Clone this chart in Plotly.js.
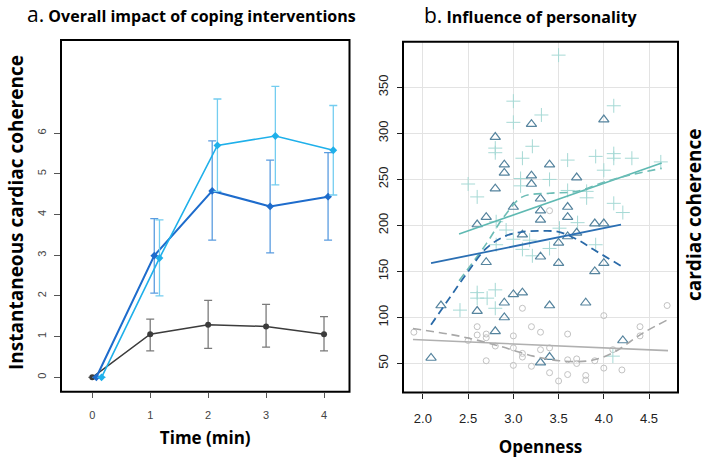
<!DOCTYPE html>
<html>
<head>
<meta charset="utf-8">
<script src="https://cdn.plot.ly/plotly-3.0.1.min.js"></script>
<style>html,body{margin:0;padding:0;background:#fff;}#chart{width:708px;height:461px;}</style>
</head>
<body>
<div id="chart"></div>
<script>
// ---------- Panel a data ----------
var timeMin = [0, 1, 2, 3, 4];
var timeTicks = [0, 1, 2, 3, 4];
var cohTicks = [0, 1, 2, 3, 4, 5, 6];

var greyMean  = [0, 1.06, 1.29, 1.25, 1.06];
var greyUpper = [null, 1.43, 1.89, 1.79, 1.49];
var greyLower = [null, 0.65, 0.71, 0.74, 0.65];

var darkMean  = [0, 2.99, 4.58, 4.20, 4.44];
var darkUpper = [null, 3.90, 5.81, 5.34, 5.52];
var darkLower = [null, 2.07, 3.37, 3.06, 3.37];

var lightMean  = [0, 2.93, 5.70, 5.93, 5.58];
var lightUpper = [null, 3.87, 6.84, 7.15, 6.68];
var lightLower = [null, 2.00, 4.57, 4.73, 4.48];

// ---------- Panel b data ----------
var opennessTicks = [2.0, 2.5, 3.0, 3.5, 4.0, 4.5];
var opennessTickText = ["2.0", "2.5", "3.0", "3.5", "4.0", "4.5"];
var cohTicksB = [50, 100, 150, 200, 250, 300, 350];

var crossX = [3.50,3.00,3.00,3.31,4.11,2.80,2.80,3.21,3.10,3.60,3.91,4.11,4.11,4.31,4.63,2.50,2.60,3.08,3.08,3.40,3.60,3.81,3.81,4.00,4.11,4.21,3.71,2.81,2.92,3.00,2.81,3.10,3.21,3.40,3.51,3.91,3.18,2.60,2.60,2.71,2.80,2.41,2.80,4.10];
var crossY = [385,335,312,320,330,284,279,286,273,271,275,278,273,273,269,245,231,251,243,250,238,237,230,260,224,214,203,204,195,185,179,174,167,175,197,179,184,127,121,121,130,108,110,58];

var triX = [2.80,3.20,4.00,2.90,2.90,3.40,3.20,3.20,2.80,3.70,3.30,3.00,3.30,3.30,3.60,3.60,2.60,2.70,3.90,4.00,3.10,2.70,3.50,3.50,3.60,3.70,3.30,3.90,4.00,2.20,2.60,2.90,2.90,3.00,3.10,3.40,3.80,2.80,2.09,3.40,3.30,4.21];
var triY = [296,310,315,266,257,266,254,245,240,252,229,220,216,206,220,209,201,209,202,202,190,160,181,159,188,192,166,150,159,113,107,116,100,125,127,113,116,85,56,57,51,75];

var circX = [1.90,2.50,2.60,2.60,2.70,2.70,2.70,2.80,3.00,3.00,3.00,3.10,3.10,3.10,3.20,3.20,3.30,3.30,3.40,3.40,3.40,3.50,3.60,3.60,3.60,3.70,3.70,3.80,3.80,3.90,4.00,4.00,4.10,4.20,4.40,4.40,4.70];
var circY = [84,75,90,81,82,78,53,69,80,67,48,110,61,57,90,47,84,65,67,40,216,31,82,54,38,55,50,37,32,53,102,45,65,43,90,80,113];

var tealFitX = [2.40, 4.64];
var tealFitY = [190.7, 267.7];
var tealSmoothX = [2.40, 2.70, 2.90, 3.10, 3.40, 3.70, 4.00, 4.30, 4.64];
var tealSmoothY = [140, 180, 210, 231, 235, 237, 247, 255, 262];

var blueFitX = [2.09, 4.19];
var blueFitY = [159, 201];
var blueSmoothX = [2.09, 2.30, 2.50, 2.70, 2.90, 3.10, 3.30, 3.50, 3.70, 3.90, 4.19];
var blueSmoothY = [92, 122, 150, 175, 188, 193, 194, 193, 185, 173, 156];

var greyFitX = [1.89, 4.71];
var greyFitY = [76, 64];
var greySmoothX = [1.89, 2.41, 2.85, 3.22, 3.51, 3.84, 4.10, 4.43, 4.71];
var greySmoothY = [88, 79.6, 68.8, 58, 53, 53, 61.6, 83, 97.7];

function errPlus(m, u) { return m.map(function (v, i) { return u[i] === null ? null : u[i] - v; }); }
function errMinus(m, l) { return m.map(function (v, i) { return l[i] === null ? null : v - l[i]; }); }
function shift(arr, d) { return arr.map(function (v) { return v + d; }); }

var traces = [
  {x: timeMin, y: greyMean, xaxis: 'x', yaxis: 'y', mode: 'lines+markers', type: 'scatter',
   line: {color: '#3c3c3c', width: 1.5}, marker: {color: '#3c3c3c', size: 6},
   error_y: {type: 'data', symmetric: false, array: errPlus(greyMean, greyUpper), arrayminus: errMinus(greyMean, greyLower), color: '#7a7a7a', thickness: 1.3, width: 4}},
  {x: shift(timeMin, 0.07), y: darkMean, xaxis: 'x', yaxis: 'y', mode: 'lines+markers', type: 'scatter',
   line: {color: '#1e6ccc', width: 2}, marker: {color: '#1e6ccc', size: 6, symbol: 'diamond'},
   error_y: {type: 'data', symmetric: false, array: errPlus(darkMean, darkUpper), arrayminus: errMinus(darkMean, darkLower), color: '#5a9ce0', thickness: 1.3, width: 4}},
  {x: shift(timeMin, 0.16), y: lightMean, xaxis: 'x', yaxis: 'y', mode: 'lines+markers', type: 'scatter',
   line: {color: '#1fb0ea', width: 1.6}, marker: {color: '#1fb0ea', size: 6, symbol: 'diamond'},
   error_y: {type: 'data', symmetric: false, array: errPlus(lightMean, lightUpper), arrayminus: errMinus(lightMean, lightLower), color: '#74cdf0', thickness: 1.3, width: 4}},

  {x: circX, y: circY, xaxis: 'x2', yaxis: 'y2', mode: 'markers', type: 'scatter',
   marker: {symbol: 'circle-open', size: 6, color: '#c2c2c2', line: {width: 1}}},
  {x: crossX, y: crossY, xaxis: 'x2', yaxis: 'y2', mode: 'markers', type: 'scatter',
   marker: {symbol: 'cross-thin-open', size: 10, color: '#a6d9d5', line: {width: 1, color: '#a6d9d5'}}},
  {x: triX, y: triY, xaxis: 'x2', yaxis: 'y2', mode: 'markers', type: 'scatter',
   marker: {symbol: 'triangle-up-open', size: 9, color: '#56849e', line: {width: 1.2}}},

  {x: greyFitX, y: greyFitY, xaxis: 'x2', yaxis: 'y2', mode: 'lines', type: 'scatter', line: {color: '#b0b0b0', width: 1.6}},
  {x: greySmoothX, y: greySmoothY, xaxis: 'x2', yaxis: 'y2', mode: 'lines', type: 'scatter', line: {color: '#a8a8a8', width: 1.6, dash: '8px,5px', shape: 'spline'}},
  {x: tealFitX, y: tealFitY, xaxis: 'x2', yaxis: 'y2', mode: 'lines', type: 'scatter', line: {color: '#5fb9b2', width: 1.6}},
  {x: tealSmoothX, y: tealSmoothY, xaxis: 'x2', yaxis: 'y2', mode: 'lines', type: 'scatter', line: {color: '#6dbdb6', width: 1.6, dash: '8px,5px', shape: 'spline'}},
  {x: blueFitX, y: blueFitY, xaxis: 'x2', yaxis: 'y2', mode: 'lines', type: 'scatter', line: {color: '#2b6fb3', width: 1.8}},
  {x: blueSmoothX, y: blueSmoothY, xaxis: 'x2', yaxis: 'y2', mode: 'lines', type: 'scatter', line: {color: '#2a6aa8', width: 1.8, dash: '8px,5px', shape: 'spline'}}
];

var tickFontA = {family: 'Liberation Sans, Arial, sans-serif', size: 11, color: '#444'};
var tickFontB = {family: 'Liberation Sans, Arial, sans-serif', size: 13, color: '#222'};
var titleFamily = 'Open Sans, sans-serif';

var layout = {
  width: 708, height: 461,
  margin: {l: 0, r: 0, t: 0, b: 0},
  paper_bgcolor: '#fff', plot_bgcolor: '#fff',
  showlegend: false,
  xaxis: {domain: [61 / 708, 349.5 / 708], range: [-0.54, 4.44], tickvals: timeTicks,
          showgrid: false, zeroline: false, ticks: 'outside', ticklen: 5, tickcolor: '#555', tickwidth: 1,
          tickfont: tickFontA, ticklabelstandoff: 8, anchor: 'y',
          title: {text: '<b>Time (min)</b>', font: {family: titleFamily, size: 17, color: '#000'}, standoff: 12}},
  yaxis: {domain: [1 - 391.7 / 461, 1 - 40 / 461], range: [-0.354, 8.29], tickvals: cohTicks,
          showgrid: false, zeroline: false, ticks: 'outside', ticklen: 6, tickcolor: '#555', tickwidth: 1,
          tickangle: -90, tickfont: tickFontA, ticklabelstandoff: 4, anchor: 'x'},
  xaxis2: {domain: [403 / 708, 678 / 708], range: [1.78, 4.82], tickvals: opennessTicks, ticktext: opennessTickText,
           showgrid: true, gridcolor: '#e3e3e3', gridwidth: 1, zeroline: false,
           ticks: 'outside', ticklen: 5, tickcolor: '#222', tickfont: tickFontB, ticklabelstandoff: 9, anchor: 'y2',
           title: {text: '<b>Openness</b>', font: {family: titleFamily, size: 17, color: '#000'}, standoff: 16}},
  yaxis2: {domain: [1 - 392.5 / 461, 1 - 41.7 / 461], range: [18.5, 399.6], tickvals: cohTicksB,
           showgrid: true, gridcolor: '#e3e3e3', gridwidth: 1, zeroline: false,
           ticks: 'outside', ticklen: 5, tickcolor: '#222', tickangle: -90, tickfont: tickFontB, ticklabelstandoff: 4, anchor: 'x2'},
  shapes: [
    {type: 'rect', xref: 'x domain', yref: 'y domain', x0: 0, x1: 1, y0: 0, y1: 1, line: {color: '#000', width: 2}},
    {type: 'rect', xref: 'x2 domain', yref: 'y2 domain', x0: 0, x1: 1, y0: 0, y1: 1, line: {color: '#000', width: 2}}
  ],
  annotations: [
    {xref: 'paper', yref: 'paper', x: 25 / 708, y: 1 - 14 / 461, xanchor: 'left', yanchor: 'middle', showarrow: false,
     text: '<span style="font-size:21px;font-weight:normal">a.</span> <b>Overall impact of coping interventions</b>',
     font: {family: 'Open Sans, sans-serif', size: 16, color: '#000'}},
    {xref: 'paper', yref: 'paper', x: 422 / 708, y: 1 - 15 / 461, xanchor: 'left', yanchor: 'middle', showarrow: false,
     text: '<span style="font-size:21px;font-weight:normal">b.</span> <b>Influence of personality</b>',
     font: {family: 'Open Sans, sans-serif', size: 16, color: '#000'}},
    {xref: 'paper', yref: 'paper', x: 16 / 708, y: 1 - 213 / 461, xanchor: 'center', yanchor: 'middle', showarrow: false,
     textangle: -90, text: '<b>Instantaneous cardiac coherence</b>',
     font: {family: titleFamily, size: 19, color: '#000'}},
    {xref: 'paper', yref: 'paper', x: 694 / 708, y: 1 - 215 / 461, xanchor: 'center', yanchor: 'middle', showarrow: false,
     textangle: -90, text: '<b>cardiac coherence</b>',
     font: {family: titleFamily, size: 19, color: '#000'}}
  ]
};

Plotly.newPlot('chart', traces, layout, {staticPlot: true, displayModeBar: false});
</script>
</body>
</html>
